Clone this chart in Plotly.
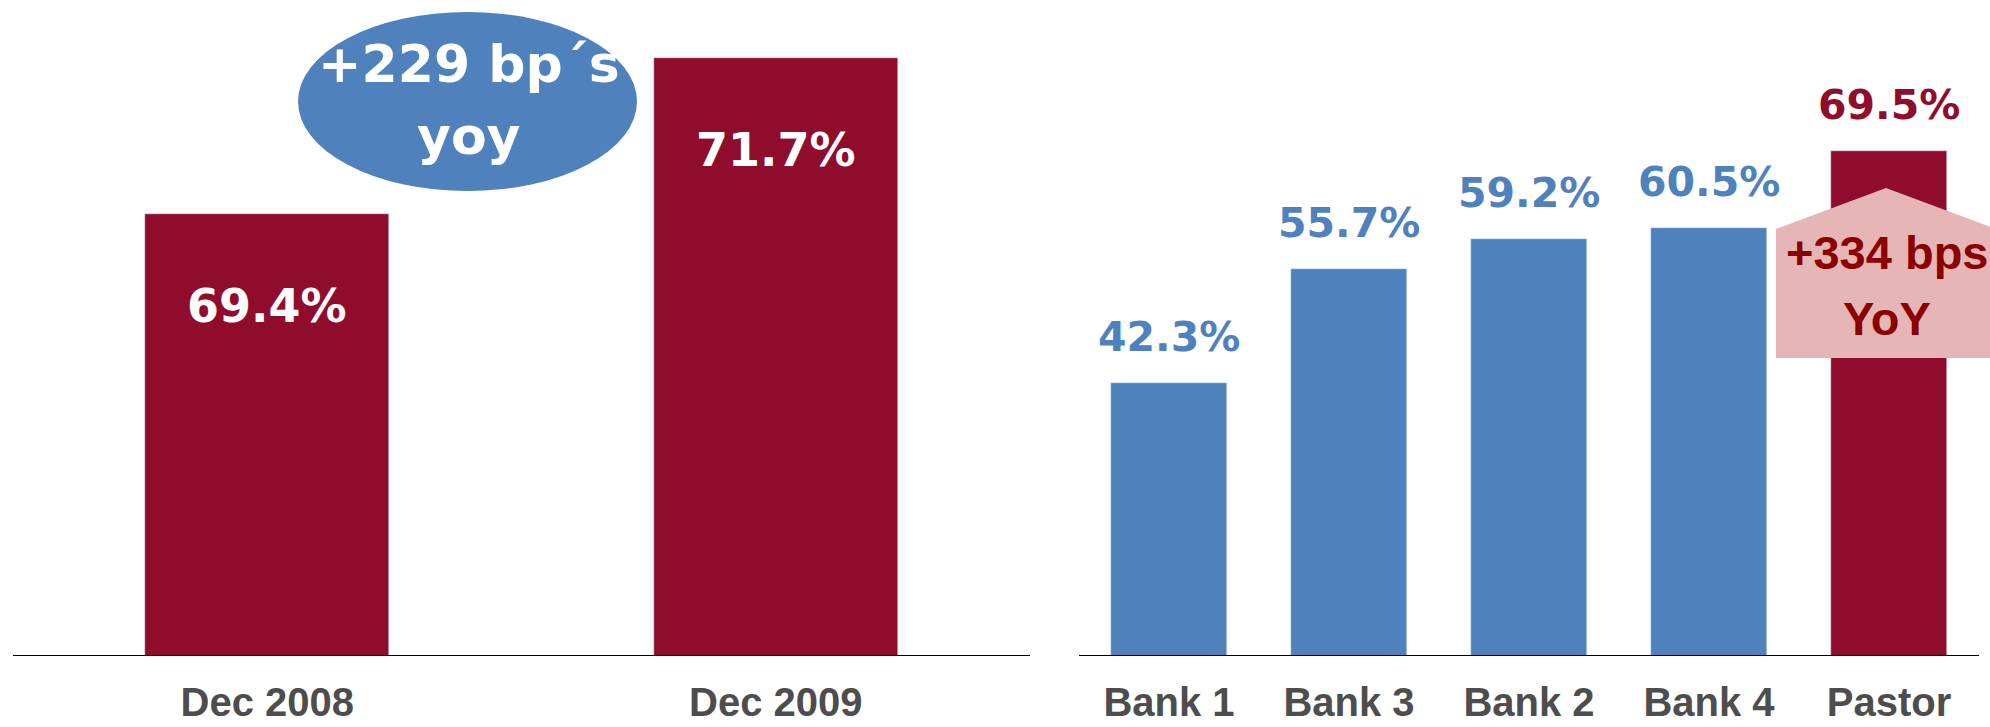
import plotly.graph_objects as go

# Cost-to-income ratio, Dec 2008 vs Dec 2009
periods = ["Dec 2008", "Dec 2009"]
period_values = [69.4, 71.7]

# Peer comparison
banks = ["Bank 1", "Bank 3", "Bank 2", "Bank 4", "Pastor"]
bank_values = [42.3, 55.7, 59.2, 60.5, 69.5]

yoy_change_lines = ["+229 bp´s", "yoy"]
peer_change_lines = ["+334 bps", "YoY"]

RED = "#8F0C2D"
BLUE = "#4F81BD"
PINK = "#E6B5B5"
DARK_RED = "#8B0000"
GREY = "#4D4D4D"

W, H = 1990, 727
BASE_Y = 655  # pixel row of the category axis

bank_colors = [RED if b == "Pastor" else BLUE for b in banks]
bank_label_colors = [RED if b == "Pastor" else BLUE for b in banks]

fig = go.Figure()

fig.add_trace(go.Bar(
    x=periods, y=period_values, marker_color=RED, width=0.48,
    xaxis="x", yaxis="y", showlegend=False, hoverinfo="skip",
))
fig.add_trace(go.Bar(
    x=banks, y=bank_values, marker_color=bank_colors, width=0.645,
    xaxis="x2", yaxis="y2", showlegend=False, hoverinfo="skip",
))

annotations = []
# white values inside the period bars
for p, v in zip(periods, period_values):
    annotations.append(dict(
        x=p, y=v, xref="x", yref="y", text=f"{v:.1f}%", showarrow=False,
        yanchor="middle", yshift=-92,
        font=dict(family="DejaVu Sans", size=46, color="white", weight="bold"),
    ))
# values above the peer bars
for b, v, c in zip(banks, bank_values, bank_label_colors):
    annotations.append(dict(
        x=b, y=v, xref="x2", yref="y2", text=f"{v:.1f}%", showarrow=False,
        yanchor="middle", yshift=46,
        font=dict(family="DejaVu Sans", size=41, color=c, weight="bold"),
    ))


def px(x):
    return x / W


def py(y):
    return 1 - y / H


# callout texts, one annotation per line
for line, yc in zip(yoy_change_lines, [64, 136]):
    annotations.append(dict(
        x=px(469), y=py(yc), xref="paper", yref="paper", text=line,
        showarrow=False, xanchor="center", yanchor="middle",
        font=dict(family="DejaVu Sans", size=52, color="white", weight="bold"),
    ))
for line, yc in zip(peer_change_lines, [252, 318]):
    annotations.append(dict(
        x=px(1887), y=py(yc), xref="paper", yref="paper", text=line,
        showarrow=False, xanchor="center", yanchor="middle",
        font=dict(family="Liberation Sans", size=47, color=DARK_RED, weight="bold"),
    ))

shapes = [
    # ellipse callout
    dict(type="circle", xref="paper", yref="paper",
         x0=px(298), x1=px(637), y0=py(191), y1=py(12),
         fillcolor=BLUE, line=dict(width=0), layer="above"),
    # house-shaped callout over the Pastor bar
    dict(type="path", xref="paper", yref="paper",
         path=(f"M {px(1776)},{py(358)} L {px(1776)},{py(229)} "
               f"L {px(1886)},{py(188)} L {px(1996)},{py(229)} "
               f"L {px(1996)},{py(358)} Z"),
         fillcolor=PINK, line=dict(width=0), layer="above"),
]

axis_common = dict(
    showgrid=False, zeroline=False, showline=True, linecolor="black",
    linewidth=1, ticks="", ticklabelstandoff=12, automargin=False,
    tickfont=dict(family="Liberation Sans", size=40, color=GREY, weight="bold"),
    fixedrange=True,
)
yaxis_common = dict(
    showgrid=False, zeroline=False, showline=False, showticklabels=False,
    ticks="", domain=[(H - BASE_Y) / H, 1], fixedrange=True, automargin=False,
)

fig.update_layout(
    width=W, height=H,
    margin=dict(l=0, r=0, t=0, b=0),
    paper_bgcolor="white", plot_bgcolor="white",
    bargap=0,
    xaxis=dict(domain=[13 / W, 1030 / W], anchor="y", **axis_common),
    yaxis=dict(range=[62.9, 72.56], anchor="x", **yaxis_common),
    xaxis2=dict(domain=[1079 / W, 1979 / W], anchor="y2", **axis_common),
    yaxis2=dict(range=[10.41, 87.2], anchor="x2", **yaxis_common),
    annotations=annotations,
    shapes=shapes,
)

fig.write_html("out.html")
